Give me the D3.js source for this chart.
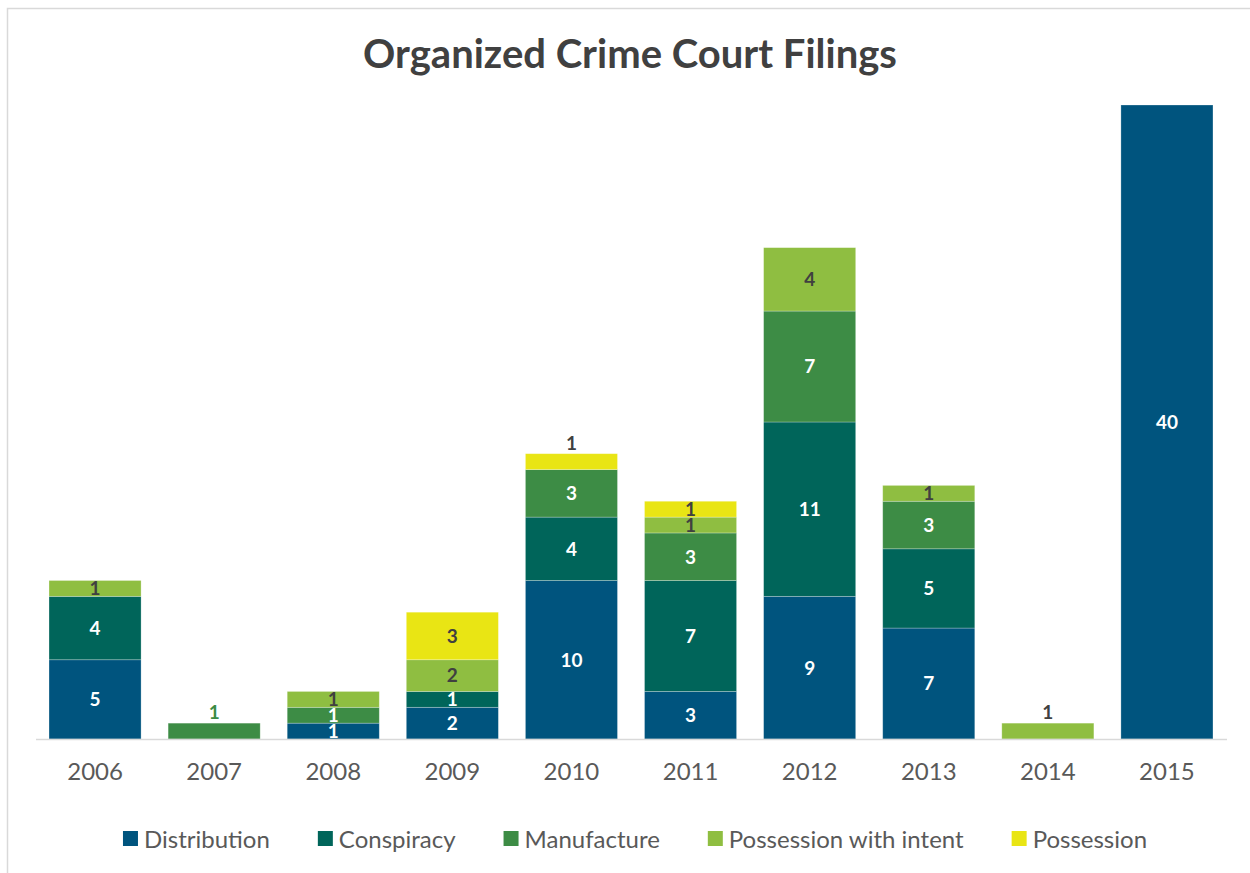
<!DOCTYPE html>
<html>
<head>
<meta charset="utf-8">
<script src="https://cdn.jsdelivr.net/npm/d3@7"></script>
<style>
  html, body { margin: 0; padding: 0; background: #ffffff; }
  svg { display: block; font-family: "Lato", "Noto Sans", sans-serif; }
</style>
</head>
<body>
<svg id="chart" width="1250" height="873"></svg>
<script>
// Filings per year, split by charge type
const years = ["2006", "2007", "2008", "2009", "2010", "2011", "2012", "2013", "2014", "2015"];
const seriesNames = ["Distribution", "Conspiracy", "Manufacture", "Possession with intent", "Possession"];
const distribution         = [5, 0, 1, 2, 10, 3, 9, 7, 0, 40];
const conspiracy           = [4, 0, 0, 1, 4, 7, 11, 5, 0, 0];
const manufacture          = [0, 1, 1, 0, 3, 3, 7, 3, 0, 0];
const possessionWithIntent = [1, 0, 1, 2, 0, 1, 4, 1, 1, 0];
const possession           = [0, 0, 0, 3, 1, 1, 0, 0, 0, 0];
const seriesColors = ["#00547e", "#00655a", "#3d8c45", "#8fbe41", "#e9e514"];
const labelColors  = ["#ffffff", "#ffffff", "#ffffff", "#404040", "#404040"];
// Segments whose value label sits just above the bar
const labelsAbove = [["2007", "Manufacture"], ["2010", "Possession"], ["2014", "Possession with intent"]];
const yMax = 40;

const seriesValues = [distribution, conspiracy, manufacture, possessionWithIntent, possession];
const rows = years.map((yr, i) => {
  const r = { year: yr };
  seriesNames.forEach((s, k) => { r[s] = seriesValues[k][i]; });
  return r;
});
const stacked = d3.stack().keys(seriesNames)(rows);

const svg = d3.select("#chart");

// Chart frame
svg.append("rect")
  .attr("x", 7.5).attr("y", 8.5)
  .attr("width", 1260).attr("height", 880)
  .attr("fill", "none").attr("stroke", "#d9d9d9").attr("stroke-width", 1.5);

// Title
svg.append("text")
  .attr("x", 630).attr("y", 68)
  .attr("text-anchor", "middle")
  .attr("font-size", 40).attr("font-weight", 700)
  .attr("fill", "#404040")
  .text("Organized Crime Court Filings");

const x = d3.scaleBand().domain(years).range([35.5, 1226.5]).paddingInner(0.227).paddingOuter(0.1135);
const y = d3.scaleLinear().domain([0, yMax]).range([739, 105]);

// Bars
const layers = svg.append("g").selectAll("g")
  .data(stacked).join("g")
  .attr("fill", (d, i) => seriesColors[i]);

layers.selectAll("rect")
  .data(d => d.filter(p => p[1] > p[0]))
  .join("rect")
  .attr("x", p => x(p.data.year))
  .attr("width", x.bandwidth())
  .attr("y", p => y(p[1]))
  .attr("height", p => y(p[0]) - y(p[1]))
  .attr("stroke", "rgba(255,255,255,0.35)")
  .attr("stroke-width", 0.75);

// Category axis
const xAxis = svg.append("g")
  .attr("transform", "translate(0,739)")
  .call(d3.axisBottom(x).tickSize(0).tickPadding(24));
xAxis.select(".domain").attr("stroke", "#d9d9d9").attr("stroke-width", 1.5);
xAxis.selectAll("text")
  .attr("font-size", 24).attr("fill", "#595959")
  .attr("font-family", "Lato, 'Noto Sans', sans-serif");

// Value labels
const isAbove = (yr, s) => labelsAbove.some(a => a[0] === yr && a[1] === s);
stacked.forEach((layer, k) => {
  layer.forEach(p => {
    const v = p[1] - p[0];
    if (v <= 0) return;
    const yr = p.data.year;
    const above = isAbove(yr, layer.key);
    svg.append("text")
      .attr("x", x(yr) + x.bandwidth() / 2)
      .attr("y", above ? y(p[1]) - 4 : (y(p[0]) + y(p[1])) / 2)
      .attr("dy", above ? 0 : "0.36em")
      .attr("text-anchor", "middle")
      .attr("font-size", 19).attr("font-weight", 700)
      .attr("fill", above ? (k === 2 ? seriesColors[k] : "#404040") : labelColors[k])
      .text(v);
  });
});

// Legend
const legendGap = 48;
const legend = svg.append("g");
let lx = 0;
seriesNames.forEach((name, k) => {
  const g = legend.append("g");
  g.append("rect").attr("x", 0).attr("y", -17).attr("width", 15).attr("height", 15).attr("fill", seriesColors[k]);
  const t = g.append("text").attr("x", 21).attr("y", 0)
    .attr("font-size", 24).attr("fill", "#595959").text(name);
  const w = 21 + t.node().getComputedTextLength();
  g.attr("transform", `translate(${lx},0)`);
  lx += w + legendGap;
});
const legendWidth = lx - legendGap;
legend.attr("transform", `translate(${635 - legendWidth / 2},848)`);
</script>
</body>
</html>
